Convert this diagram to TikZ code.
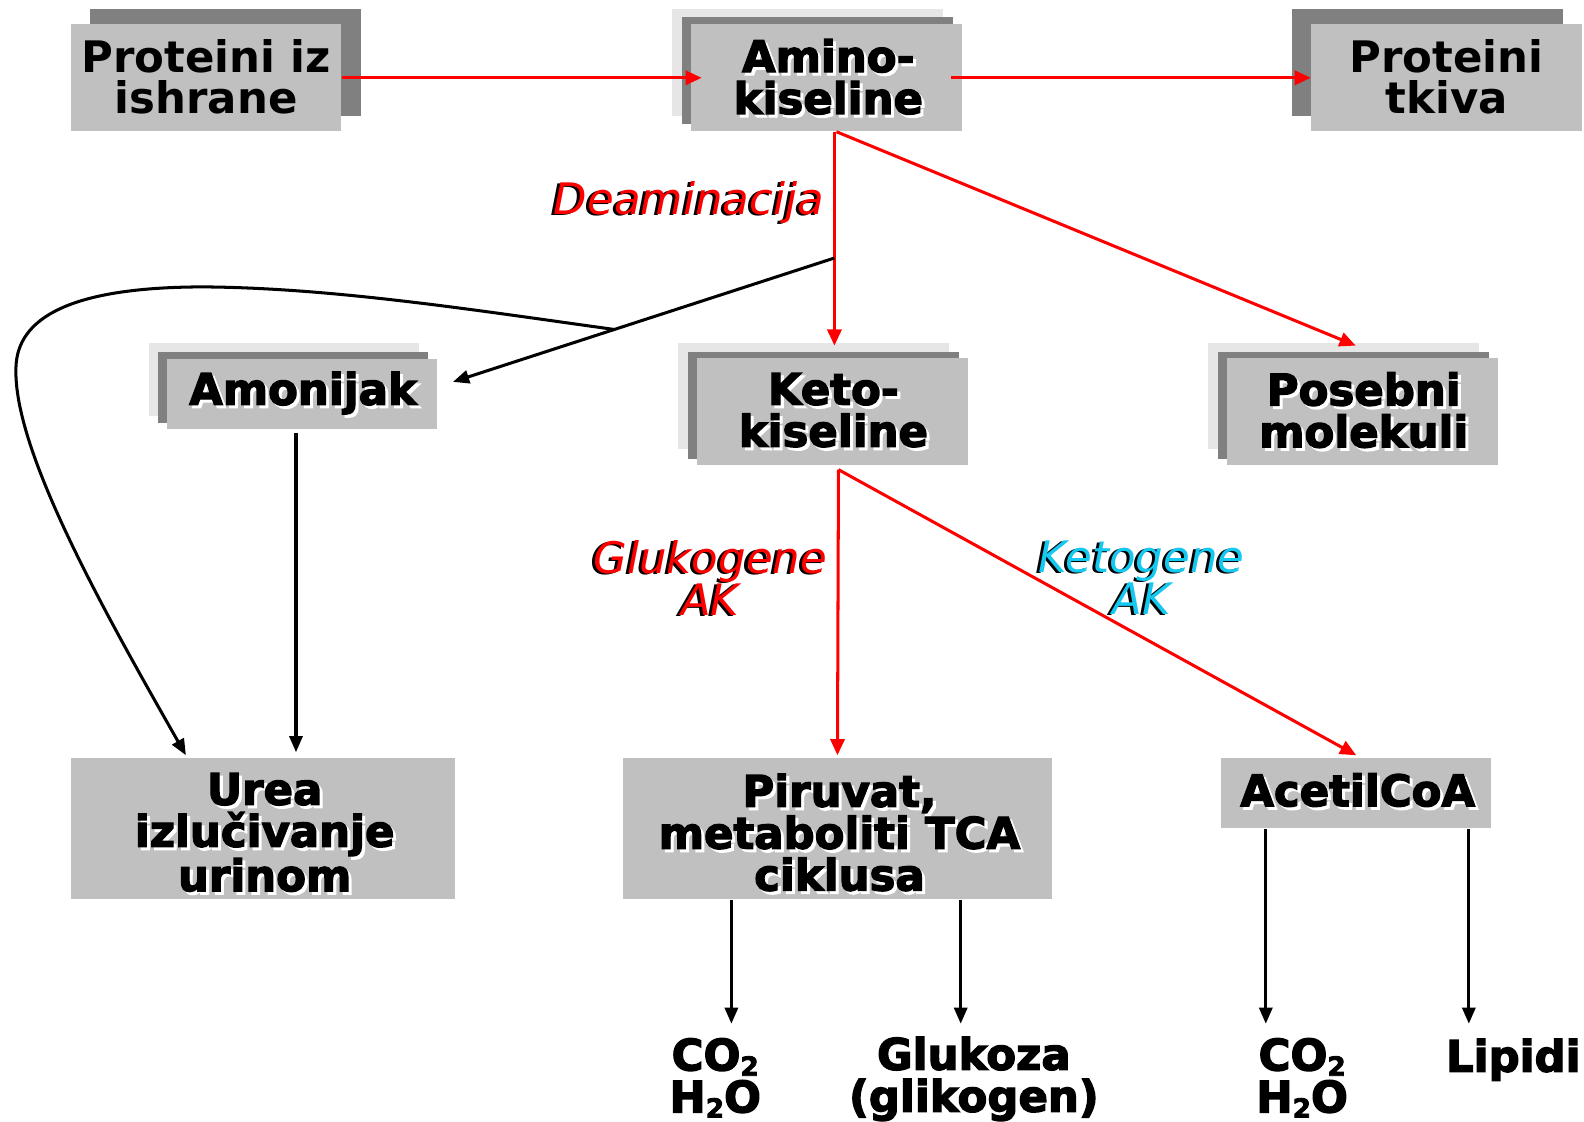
\documentclass[tikz,border=0pt]{standalone}
\usepackage{fontspec}
\setmainfont{DejaVu Sans}
\newfontfamily\heavy{DejaVu Sans}[BoldFeatures={FakeBold=3}]
\usetikzlibrary{arrows.meta,calc}
\definecolor{boxgray}{HTML}{C0C0C0}
\definecolor{shgray}{HTML}{808080}
\definecolor{ltgray}{HTML}{E6E6E6}
\definecolor{ketocyan}{RGB}{20,200,240}
\tikzset{
  box/.style={fill=boxgray, draw=none, inner sep=0pt},
  darkback/.style={fill=shgray, draw=none},
  lightback/.style={fill=ltgray, draw=none},
  bigtxt/.style={font=\fontsize{21.5pt}{20.75pt}\selectfont\bfseries, align=center, inner sep=0pt},
  heavytxt/.style={font=\fontsize{21.5pt}{20.75pt}\selectfont\heavy\bfseries, align=center, inner sep=0pt},
  itxt/.style={font=\fontsize{21.5pt}{20.5pt}\selectfont\itshape, align=center, inner sep=0pt},
  redarr/.style={draw=red, line width=1.5pt, -{Triangle[length=8pt,width=7pt]}},
  blkarr/.style={draw=black, line width=1.5pt, -{Triangle[length=8pt,width=6.5pt]}},
}
\newcommand\shtext[3]{%
  \node[heavytxt, text=white] (#1s) at ($#2+(3,3)$) {#3};
  \node[heavytxt] (#1) at #2 {#3};}
\newcommand\coltext[4]{%
  \node[itxt, text=black] (#1s) at ($#2+(-3,1)$) {#4};
  \node[itxt, text=#3] (#1) at #2 {#4};}
\newcommand\subtwo{\raisebox{-0.12em}{\fontsize{13pt}{13pt}\selectfont 2}}
\begin{document}
\begin{tikzpicture}[x=0.5pt,y=-0.5pt]
\useasboundingbox (0,0) rectangle (1568,1110);
\fill[white] (0,0) rectangle (1568,1110);

% ---- top row
\path[darkback] (89,9) rectangle (357,115);
\node[box, minimum width=134pt, minimum height=53pt] (P1) at (204,77) {};
\node[bigtxt] (P1t) at (204,76) {Proteini iz\\ishrane};

\path[lightback] (665,9) rectangle (933,115);
\path[darkback] (675,17) rectangle (943,123);
\node[box, minimum width=134pt, minimum height=53pt] (AK) at (818,77) {};
\shtext{AKt}{(820,76)}{Amino-\\kiseline}

\path[darkback] (1279,9) rectangle (1547,115);
\node[box, minimum width=134pt, minimum height=53pt] (PT) at (1432,77) {};
\node[bigtxt] (PTt) at (1432,76) {Proteini\\tkiva};

% ---- middle row
\path[lightback] (147,340) rectangle (415,412);
\path[darkback] (156,348) rectangle (424,419);
\node[box, minimum width=134pt, minimum height=35pt] (AM) at (299,390) {};
\shtext{AMt}{(300,389)}{Amonijak}

\path[lightback] (671,340) rectangle (939,444);
\path[darkback] (681,348) rectangle (949,454);
\node[box, minimum width=134pt, minimum height=53pt] (KK) at (824,407.5) {};
\shtext{KKt}{(825,406)}{Keto-\\kiseline}

\path[lightback] (1196,340) rectangle (1464,444);
\path[darkback] (1206,348) rectangle (1474,454);
\node[box, minimum width=134pt, minimum height=53pt] (PM) at (1349,407.5) {};
\shtext{PMt}{(1350,406)}{Posebni\\molekuli}

% ---- lower row
\node[box, minimum width=190pt, minimum height=70pt] (UR) at (260,820) {};
\shtext{URt}{(262,824)}{Urea\\izlučivanje\\urinom}

\node[box, minimum width=212pt, minimum height=70pt] (PV) at (829,820) {};
\shtext{PVt}{(831,824)}{Piruvat,\\metaboliti TCA\\ciklusa}

\node[box, minimum width=133.5pt, minimum height=35pt] (AC) at (1342.5,785) {};
\shtext{ACt}{(1344,782)}{AcetilCoA}

% ---- bottom texts
\node[heavytxt] (B1) at (708,1067) {CO\subtwo\\H\subtwo O};
\node[heavytxt] (B2) at (964,1068) {Glukoza\\(glikogen)};
\node[heavytxt] (B3) at (1289,1067) {CO\subtwo\\H\subtwo O};
\node[heavytxt] (B4) at (1498,1049) {Lipidi};

% ---- labels
\coltext{L1}{(682,200)}{red}{Deaminacija}
\coltext{L2}{(703,572)}{red}{Glukogene\\AK}
\coltext{L3}{(1130,572)}{ketocyan}{Ketogene\\AK}

% ---- red arrows
\draw[redarr] (P1.east) -- ($(AK.west)+(11,0)$);
\draw[redarr] ($(AK.east)+(-11,0)$) -- (PT.west);
\coordinate (dm) at ($(AK.south)+(8,125)$);
\draw[redarr] ($(AK.south)+(8,0)$) -- ($(KK.north)+(2,-12)$);
\draw[redarr] ($(AK.south)+(10,0)$) -- ($(PM.north)+(-7,-12)$);
\draw[redarr] ($(KK.south)+(6,4)$) -- ($(PV.north)+(0,-2)$);
\draw[redarr] ($(KK.south)+(6,4)$) -- ($(AC.north)+(0,-2)$);

% ---- black arrows
\coordinate (amtip) at ($(AM.east)+(15,-12)$);
\draw[blkarr] (dm) -- (amtip);
\coordinate (br) at ($(dm)!0.577!(amtip)$);
\coordinate (urtip) at ($(UR.north)+(-76,-2)$);
\draw[blkarr] (br) .. controls (470,307) and (330,285) .. (202,284)
  .. controls (80,284) and (20,310) .. (16,360)
  .. controls (10,440) and (100,600) .. (urtip);
\draw[blkarr] ($(AM.south)+(-6,3)$) -- ($(UR.north)+(33,-5)$);
\draw[blkarr] ($(PV.south)+(-105,0)$) -- ($(PV.south)+(-105,123)$);
\draw[blkarr] ($(PV.south)+(122,0)$) -- ($(PV.south)+(122,123)$);
\draw[blkarr] ($(AC.south)+(-89.5,0)$) -- ($(AC.south)+(-89.5,193)$);
\draw[blkarr] ($(AC.south)+(111.5,0)$) -- ($(AC.south)+(111.5,193)$);
\end{tikzpicture}
\end{document}
